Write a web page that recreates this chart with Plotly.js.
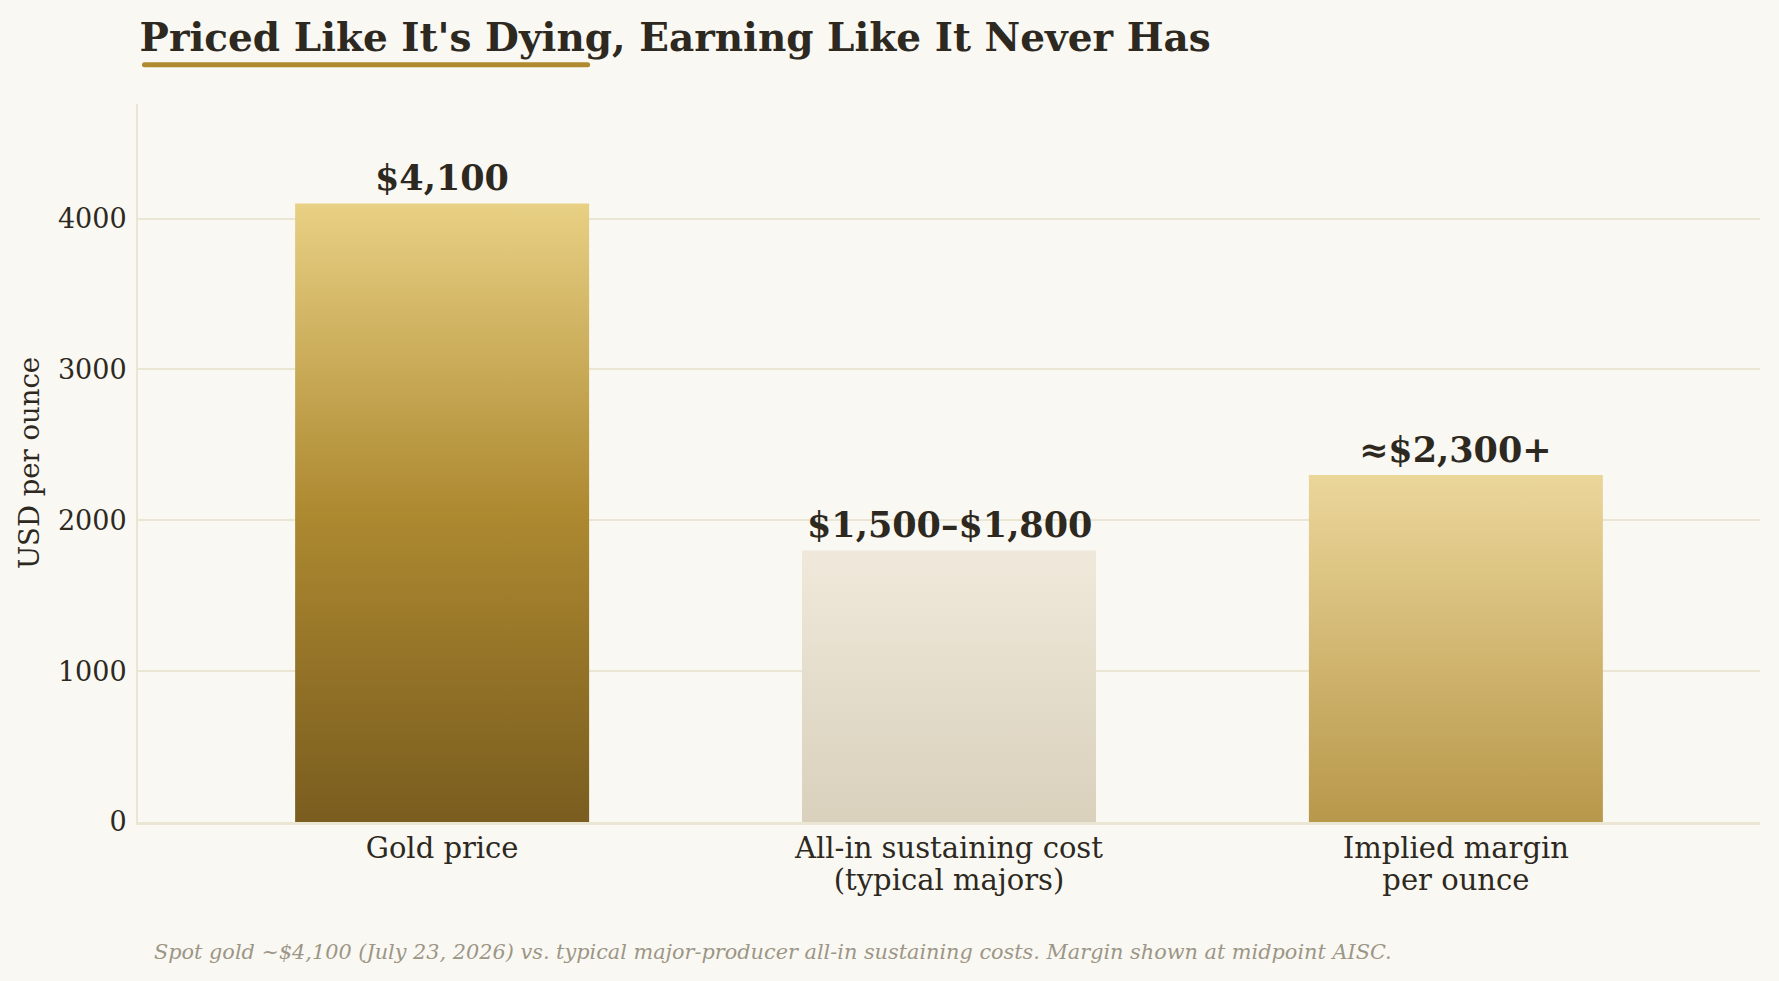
<!DOCTYPE html>
<html>
<head>
<meta charset="utf-8">
<script src="https://cdn.plot.ly/plotly-3.0.1.min.js"></script>
<style>
  html, body { margin: 0; padding: 0; background: #faf8f3; }
  #chart { width: 1779px; height: 981px; }
</style>
</head>
<body>
<div id="chart"></div>
<script>
/* Gold price vs AISC: gradient bars drawn as filled scatter shapes */

const categories = ['Gold price', 'All-in sustaining cost<br>(typical majors)', 'Implied margin<br>per ounce'];
const values = [4100, 1800, 2300];
const valueLabels = ['$4,100', '$1,500\u2013$1,800', '\u2248$2,300+'];
const yTicks = [0, 1000, 2000, 3000, 4000];

const SERIF = 'DejaVu Serif, Liberation Serif, serif';
const INK = '#2d2921';
const GRID = '#ebe5d4';
const BAR_WIDTH = 0.58;

// bottom -> top
const gradients = [
  [[0, '#7a5d1f'], [0.5, '#ad8930'], [1, '#e8d084']],
  [[0, '#d9d1bc'], [1, '#f0e8da']],
  [[0, '#b8984a'], [1, '#ebd69a']],
];

const traces = values.map((v, i) => {
  const half = BAR_WIDTH / 2;
  return {
    type: 'scatter',
    mode: 'lines',
    x: [i - half, i + half, i + half, i - half, i - half],
    y: [0, 0, v, v, 0],
    fill: 'toself',
    fillgradient: { type: 'vertical', colorscale: gradients[i] },
    line: { width: 0, color: 'rgba(0,0,0,0)' },
    hoverinfo: 'skip',
    showlegend: false,
  };
});

const labelNotes = values.map((v, i) => ({
  x: i,
  y: v,
  xref: 'x',
  yref: 'y',
  text: valueLabels[i],
  showarrow: false,
  yanchor: 'bottom',
  yshift: 3,
  font: { family: SERIF, size: 35, weight: 700, color: INK },
}));

const layout = {
  width: 1779,
  height: 981,
  paper_bgcolor: '#faf8f3',
  plot_bgcolor: '#faf8f3',
  margin: { l: 138, r: 19, t: 104, b: 159 },
  font: { family: SERIF, color: INK },
  title: {
    text: "Priced Like It's Dying, Earning Like It Never Has",
    font: { family: SERIF, size: 39, weight: 700, color: INK },
    xref: 'paper',
    x: 0.001,
    xanchor: 'left',
    yref: 'container',
    y: 1 - 37 / 981,
    yanchor: 'middle',
  },
  xaxis: {
    range: [-0.6, 2.6],
    tickvals: [0, 1, 2],
    ticktext: categories,
    tickfont: { family: SERIF, size: 29, color: INK },
    ticks: '',
    ticklabelstandoff: -2,
    showgrid: false,
    zeroline: false,
    showline: true,
    linecolor: GRID,
    linewidth: 3,
    fixedrange: true,
  },
  yaxis: {
    range: [0, 4759],
    tickvals: yTicks,
    tickfont: { family: SERIF, size: 27, color: INK },
    ticks: '',
    ticklabelstandoff: 4,
    showgrid: true,
    gridcolor: GRID,
    gridwidth: 2,
    zeroline: false,
    showline: true,
    linecolor: GRID,
    linewidth: 2,
    title: { text: 'USD per ounce', font: { family: SERIF, size: 27.5, color: INK }, standoff: 10 },
    fixedrange: true,
  },
  shapes: [
    {
      type: 'line',
      xref: 'paper', yref: 'paper',
      x0: 0.004, x1: 0.2772,
      y0: 1.0547, y1: 1.0547,
      line: { color: '#b08a2e', width: 5 },
    },
  ],
  annotations: labelNotes.concat([
    {
      xref: 'paper', yref: 'paper',
      x: 0.0086, y: -0.181,
      xanchor: 'left', yanchor: 'middle',
      showarrow: false,
      text: 'Spot gold ~$4,100 (July 23, 2026) vs. typical major-producer all-in sustaining costs. Margin shown at midpoint AISC.',
      font: { family: SERIF, size: 20.8, style: 'italic', color: '#9c9686' },
    },
  ]),
};

Plotly.newPlot('chart', traces, layout, { displayModeBar: false, staticPlot: true }).then(gd => {
  // tighter line spacing for the two-line category labels
  gd.querySelectorAll('.xtick text tspan.line').forEach(t => {
    const dy = parseFloat(t.getAttribute('dy'));
    if (dy > 0) t.setAttribute('dy', (dy * 1.1 / 1.3) + 'em');
  });
  // rounded ends on the title underline
  gd.querySelectorAll('.shapelayer path').forEach(p => {
    p.style.strokeLinecap = 'round';
  });
});
</script>
</body>
</html>
